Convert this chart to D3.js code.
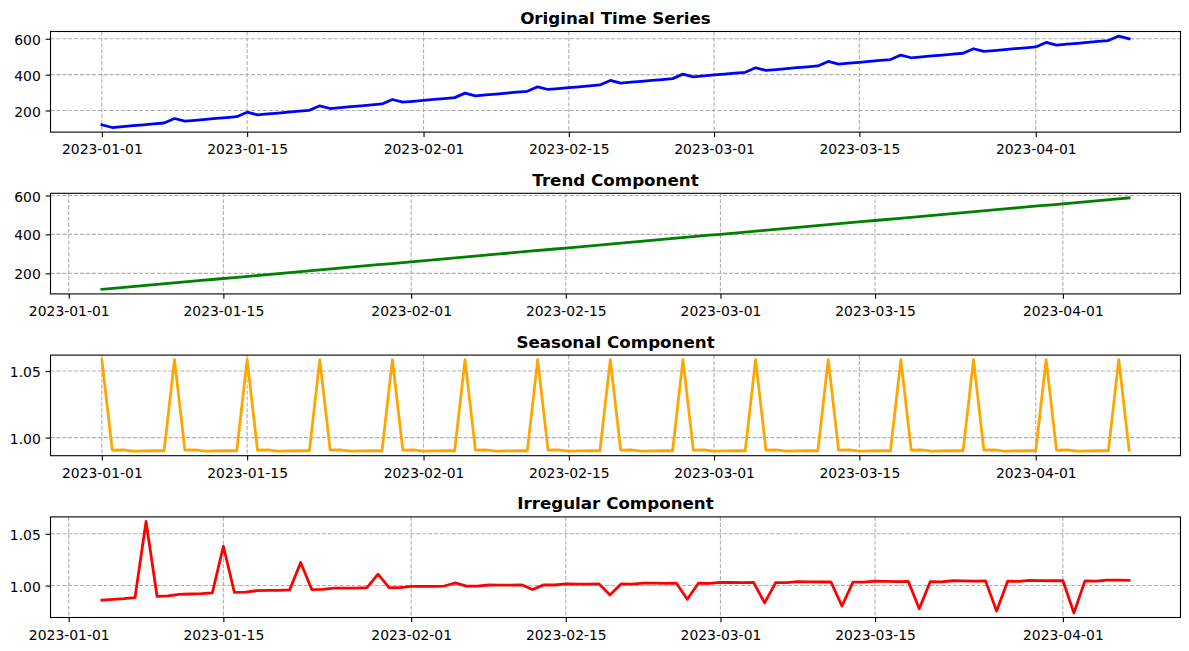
<!DOCTYPE html>
<html>
<head>
<meta charset="utf-8">
<script src="https://cdn.jsdelivr.net/npm/d3@7"></script>
<style>
  body { margin: 0; background: #fff; }
  svg { display: block; font-family: "DejaVu Sans", sans-serif; }
</style>
</head>
<body>
<div class="chart"></div>
<script>
// daily values
var seriesStart = "2023-01-01",
    trendStart = "2023-01-04";

var original = [
  120.0, 105.1, 110.1, 115.2, 120.2, 125.3, 130.3,
  155.4, 140.4, 145.5, 150.5, 155.6, 160.6, 165.7,
  190.7, 175.8, 180.8, 185.9, 190.9, 196.0, 201.0,
  226.1, 211.1, 216.2, 221.2, 226.3, 231.3, 236.4,
  261.4, 246.5, 251.5, 256.6, 261.6, 266.7, 271.7,
  296.8, 281.8, 286.9, 291.9, 297.0, 302.0, 307.1,
  332.1, 317.2, 322.2, 327.3, 332.3, 337.4, 342.4,
  367.5, 352.5, 357.6, 362.6, 367.7, 372.7, 377.8,
  402.8, 387.9, 392.9, 398.0, 403.0, 408.1, 413.1,
  438.2, 423.2, 428.3, 433.3, 438.4, 443.4, 448.5,
  473.5, 458.6, 463.6, 468.7, 473.7, 478.8, 483.8,
  508.9, 493.9, 499.0, 504.0, 509.1, 514.1, 519.2,
  544.2, 529.3, 534.3, 539.4, 544.4, 549.5, 554.5,
  579.6, 564.6, 569.7, 574.7, 579.8, 584.8, 589.9,
  614.9, 600.0
];

var trend = [
  118.0, 123.1, 128.1, 133.2,
  138.2, 143.3, 148.3, 153.4, 158.4, 163.5, 168.5,
  173.6, 178.6, 183.7, 188.7, 193.8, 198.8, 203.9,
  208.9, 214.0, 219.0, 224.1, 229.1, 234.2, 239.2,
  244.3, 249.3, 254.4, 259.4, 264.5, 269.5, 274.6,
  279.6, 284.7, 289.7, 294.8, 299.8, 304.9, 309.9,
  315.0, 320.0, 325.1, 330.1, 335.2, 340.2, 345.3,
  350.3, 355.4, 360.4, 365.5, 370.5, 375.6, 380.6,
  385.7, 390.7, 395.8, 400.8, 405.9, 410.9, 416.0,
  421.0, 426.1, 431.1, 436.2, 441.2, 446.3, 451.3,
  456.4, 461.4, 466.5, 471.5, 476.6, 481.6, 486.7,
  491.7, 496.8, 501.8, 506.9, 511.9, 517.0, 522.0,
  527.1, 532.1, 537.2, 542.2, 547.3, 552.3, 557.4,
  562.4, 567.5, 572.5, 577.6, 582.6, 587.7
];

var seasonal = [
  1.05855, 0.99052, 0.99071, 0.98982, 0.99005, 0.99027, 0.99011,
  1.05855, 0.99052, 0.99071, 0.98982, 0.99005, 0.99027, 0.99011,
  1.05855, 0.99052, 0.99071, 0.98982, 0.99005, 0.99027, 0.99011,
  1.05855, 0.99052, 0.99071, 0.98982, 0.99005, 0.99027, 0.99011,
  1.05855, 0.99052, 0.99071, 0.98982, 0.99005, 0.99027, 0.99011,
  1.05855, 0.99052, 0.99071, 0.98982, 0.99005, 0.99027, 0.99011,
  1.05855, 0.99052, 0.99071, 0.98982, 0.99005, 0.99027, 0.99011,
  1.05855, 0.99052, 0.99071, 0.98982, 0.99005, 0.99027, 0.99011,
  1.05855, 0.99052, 0.99071, 0.98982, 0.99005, 0.99027, 0.99011,
  1.05855, 0.99052, 0.99071, 0.98982, 0.99005, 0.99027, 0.99011,
  1.05855, 0.99052, 0.99071, 0.98982, 0.99005, 0.99027, 0.99011,
  1.05855, 0.99052, 0.99071, 0.98982, 0.99005, 0.99027, 0.99011,
  1.05855, 0.99052, 0.99071, 0.98982, 0.99005, 0.99027, 0.99011,
  1.05855, 0.99052, 0.99071, 0.98982, 0.99005, 0.99027, 0.99011,
  1.05855, 0.99052
];

var irregular = [
  0.9858, 0.9866, 0.9873, 0.9883,
  1.0619, 0.9894, 0.9899, 0.9915, 0.9918, 0.9922, 0.9929,
  1.0380, 0.9934, 0.9937, 0.9950, 0.9952, 0.9953, 0.9958,
  1.0222, 0.9961, 0.9962, 0.9974, 0.9975, 0.9975, 0.9979,
  1.0110, 0.9980, 0.9980, 0.9992, 0.9991, 0.9991, 0.9995,
  1.0026, 0.9994, 0.9994, 1.0005, 1.0004, 1.0004, 1.0007,
  0.9961, 1.0006, 1.0005, 1.0016, 1.0014, 1.0013, 1.0016,
  0.9909, 1.0015, 1.0014, 1.0024, 1.0023, 1.0021, 1.0024,
  0.9867, 1.0022, 1.0021, 1.0031, 1.0029, 1.0028, 1.0031,
  0.9832, 1.0028, 1.0027, 1.0037, 1.0035, 1.0034, 1.0036,
  0.9802, 1.0033, 1.0032, 1.0042, 1.0040, 1.0038, 1.0041,
  0.9776, 1.0038, 1.0036, 1.0046, 1.0044, 1.0042, 1.0045,
  0.9754, 1.0042, 1.0040, 1.0050, 1.0048, 1.0046, 1.0048,
  0.9735, 1.0045, 1.0043, 1.0053, 1.0051, 1.0049
];

var xTicks = ["2023-01-01", "2023-01-15", "2023-02-01", "2023-02-15",
              "2023-03-01", "2023-03-15", "2023-04-01"];
var levelTicks = [200, 400, 600],
    ratioTicks = [1.00, 1.05];

var titles = ["Original Time Series", "Trend Component", "Seasonal Component", "Irregular Component"];

var parse = d3.utcParse("%Y-%m-%d");

function daysFrom(start, n) {
  var s = parse(start);
  return d3.utcDay.range(s, d3.utcDay.offset(s, n));
}

var panels = [
  { title: titles[0], color: "blue",    values: original,  dates: daysFrom(seriesStart, original.length),  ticks: levelTicks, fmt: d3.format("d") },
  { title: titles[1], color: "green",   values: trend,     dates: daysFrom(trendStart, trend.length),      ticks: levelTicks, fmt: d3.format("d") },
  { title: titles[2], color: "orange",  values: seasonal,  dates: daysFrom(seriesStart, seasonal.length),  ticks: ratioTicks, fmt: d3.format(".2f") },
  { title: titles[3], color: "red",     values: irregular, dates: daysFrom(trendStart, irregular.length),  ticks: ratioTicks, fmt: d3.format(".2f") }
];

var width = 1189, height = 651;
var left = 50.5, right = 1180.5;
var tops = [31.5, 193.3, 355.1, 516.9], panelH = 100.6;
var gridColor = "#b0b0b0";

var svg = d3.select(".chart")
  .append("svg")
    .attr("width", width)
    .attr("height", height);

svg.append("rect")
  .attr("width", width)
  .attr("height", height)
  .attr("fill", "#ffffff");

// matplotlib style autoscale: 5% margin each side
function padded(ext) {
  var a = +ext[0], b = +ext[1], m = (b - a) * 0.05;
  return [a - m, b + m];
}

panels.forEach(function(p, i) {
  var top = tops[i];
  var xd = padded(d3.extent(p.dates));
  var x = d3.scaleUtc()
    .domain([new Date(xd[0]), new Date(xd[1])])
    .range([left, right]);
  var y = d3.scaleLinear()
    .domain(padded(d3.extent(p.values)))
    .range([top + panelH, top]);

  var g = svg.append("g");

  var tickDates = xTicks.map(parse);

  // grid
  g.selectAll(".vgrid")
    .data(tickDates)
    .enter().append("line")
      .attr("x1", function(d) { return x(d); })
      .attr("x2", function(d) { return x(d); })
      .attr("y1", top)
      .attr("y2", top + panelH)
      .style("stroke", gridColor)
      .style("stroke-width", 1.1)
      .style("stroke-dasharray", "4.1,1.8");

  g.selectAll(".hgrid")
    .data(p.ticks)
    .enter().append("line")
      .attr("x1", left)
      .attr("x2", right)
      .attr("y1", function(d) { return y(d); })
      .attr("y2", function(d) { return y(d); })
      .style("stroke", gridColor)
      .style("stroke-width", 1.1)
      .style("stroke-dasharray", "4.1,1.8");

  // series line
  var line = d3.line()
    .x(function(d, j) { return x(p.dates[j]); })
    .y(function(d) { return y(d); });

  g.append("path")
    .datum(p.values)
    .attr("d", line)
    .style("fill", "none")
    .style("stroke", p.color)
    .style("stroke-width", 2.78)
    .style("stroke-linejoin", "round")
    .style("stroke-linecap", "square");

  // axes
  var xAxis = g.append("g")
    .attr("transform", "translate(0," + (top + panelH) + ")")
    .call(d3.axisBottom(x)
      .tickValues(tickDates)
      .tickFormat(d3.utcFormat("%Y-%m-%d"))
      .tickSize(4.86)
      .tickPadding(7.6)
      .tickSizeOuter(0));

  var yAxis = g.append("g")
    .attr("transform", "translate(" + left + ",0)")
    .call(d3.axisLeft(y)
      .tickValues(p.ticks)
      .tickFormat(p.fmt)
      .tickSize(4.86)
      .tickPadding(4.86)
      .tickSizeOuter(0));

  [xAxis, yAxis].forEach(function(a) {
    a.select(".domain").remove();
    a.selectAll(".tick line").style("stroke", "#000").style("stroke-width", 1.1);
    a.selectAll(".tick text")
      .style("font-family", "DejaVu Sans")
      .style("font-size", "13.9px")
      .style("fill", "#000");
  });
  yAxis.selectAll(".tick text").attr("dy", "0.4em");

  // frame
  g.append("rect")
    .attr("x", left)
    .attr("y", top)
    .attr("width", right - left)
    .attr("height", panelH)
    .style("fill", "none")
    .style("stroke", "#000")
    .style("stroke-width", 1.1);

  g.append("text")
    .attr("x", (left + right) / 2)
    .attr("y", top - 7.5)
    .style("text-anchor", "middle")
    .style("font-size", "16.7px")
    .style("font-weight", "bold")
    .style("font-family", "DejaVu Sans")
    .style("fill", "#000")
    .text(p.title);
});
</script>
</body>
</html>
